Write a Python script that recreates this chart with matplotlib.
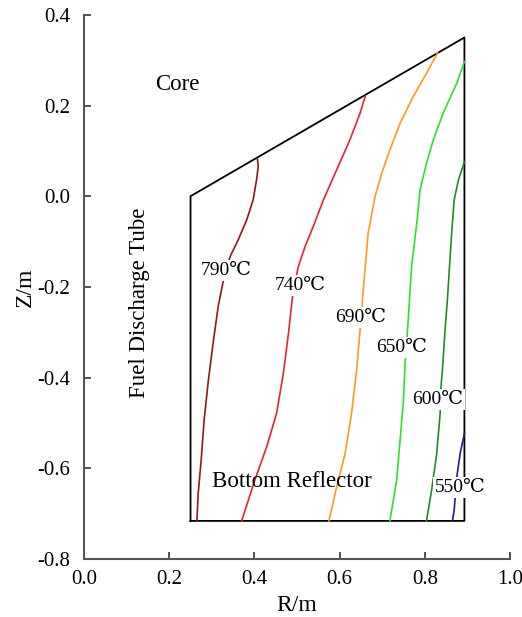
import matplotlib
matplotlib.use("Agg")
import matplotlib.pyplot as plt

plt.rcParams['font.family'] = ['Liberation Serif', 'DejaVu Serif', 'DejaVu Sans']
plt.rcParams['axes.unicode_minus'] = False

# Region boundary (R, Z)
boundary_r = [0.25, 0.25, 0.893, 0.893, 0.25]
boundary_z = [-0.716, 0.0, 0.35, -0.716, -0.716]

# Isotherms (R, Z)
iso_790_r = [0.407, 0.409, 0.405, 0.397, 0.382, 0.362, 0.343, 0.326, 0.315, 0.304, 0.292, 0.282, 0.275, 0.268, 0.265]
iso_790_z = [0.082, 0.065, 0.036, -0.008, -0.052, -0.096, -0.133, -0.191, -0.243, -0.317, -0.405, -0.493, -0.582, -0.655, -0.716]
iso_740_r = [0.660, 0.648, 0.624, 0.593, 0.562, 0.538, 0.519, 0.503, 0.489, 0.480, 0.468, 0.452, 0.429, 0.401, 0.370]
iso_740_z = [0.220, 0.183, 0.124, 0.058, -0.008, -0.067, -0.111, -0.155, -0.225, -0.302, -0.390, -0.479, -0.552, -0.626, -0.716]
iso_690_r = [0.830, 0.804, 0.773, 0.742, 0.718, 0.699, 0.683, 0.673, 0.667, 0.655, 0.648, 0.640, 0.628, 0.613, 0.593, 0.575]
iso_690_z = [0.316, 0.271, 0.220, 0.161, 0.102, 0.051, -0.001, -0.052, -0.081, -0.213, -0.295, -0.383, -0.479, -0.567, -0.641, -0.716]
iso_650_r = [0.893, 0.875, 0.843, 0.820, 0.804, 0.789, 0.782, 0.776, 0.769, 0.764, 0.759, 0.754, 0.750, 0.742, 0.734, 0.718]
iso_650_z = [0.297, 0.249, 0.183, 0.124, 0.073, 0.014, -0.052, -0.100, -0.155, -0.229, -0.302, -0.361, -0.449, -0.538, -0.626, -0.716]
iso_600_r = [0.893, 0.879, 0.869, 0.863, 0.858, 0.853, 0.847, 0.842, 0.838, 0.836, 0.828, 0.816, 0.804]
iso_600_z = [0.076, 0.036, -0.008, -0.082, -0.155, -0.229, -0.302, -0.376, -0.420, -0.479, -0.567, -0.648, -0.716]
iso_550_r = [0.893, 0.883, 0.875, 0.869, 0.865]
iso_550_z = [-0.523, -0.567, -0.620, -0.692, -0.716]

iso_labels = ["790\u2103", "740\u2103", "690\u2103", "650\u2103", "600\u2103", "550\u2103"]
label_r = [0.333, 0.508, 0.650, 0.745, 0.830, 0.884]
label_z = [-0.163, -0.196, -0.268, -0.333, -0.449, -0.643]
iso_colors = ["#8B1A1A", "#EE2030", "#FF9A1E", "#2EE02E", "#228B22", "#1E1E8C"]

fig = plt.figure(figsize=(5.22, 6.17), dpi=100)
ax = fig.add_axes([0.161, 0.094, 0.816, 0.882])

ax.plot(boundary_r, boundary_z, color="black", lw=1.3, zorder=2)

iso_r = [iso_790_r, iso_740_r, iso_690_r, iso_650_r, iso_600_r, iso_550_r]
iso_z = [iso_790_z, iso_740_z, iso_690_z, iso_650_z, iso_600_z, iso_550_z]
for r, z, c in zip(iso_r, iso_z, iso_colors):
    ax.plot(r, z, color=c, lw=1.2, zorder=3, solid_joinstyle="round")

for t, r, z in zip(iso_labels, label_r, label_z):
    ax.text(r, z, t, ha="center", va="center", fontsize=14, zorder=5,
            bbox=dict(boxstyle="square,pad=0.1", fc="white", ec="none"))

ax.text(0.218, 0.246, "Core", ha="center", va="center", fontsize=16.5)
ax.text(0.131, -0.235, "Fuel Discharge Tube", ha="center", va="center",
        fontsize=16.5, rotation=90)
ax.text(0.488, -0.628, "Bottom Reflector", ha="center", va="center", fontsize=16.5)

ax.set_xlim(0.0, 1.0)
ax.set_ylim(-0.8, 0.4)
ax.set_xticks([0.0, 0.2, 0.4, 0.6, 0.8, 1.0])
ax.set_yticks([-0.8, -0.6, -0.4, -0.2, 0.0, 0.2, 0.4])
ax.set_xticklabels(["0.0", "0.2", "0.4", "0.6", "0.8", "1.0"])
ax.set_yticklabels(["-0.8", "-0.6", "-0.4", "-0.2", "0.0", "0.2", "0.4"])
ax.tick_params(direction="in", length=5, width=1.2, labelsize=15, colors="#333333",
               labelcolor="black")
ax.tick_params(axis="y", pad=10)
ax.tick_params(axis="x", pad=8)
for s in ["top", "right"]:
    ax.spines[s].set_visible(False)
for s in ["left", "bottom"]:
    ax.spines[s].set_color("#555555")
    ax.spines[s].set_linewidth(1.5)

ax.set_xlabel("R/m", fontsize=17, labelpad=4)
ax.set_ylabel("Z/m", fontsize=17, labelpad=1)

fig.savefig("out.png", dpi=100)
